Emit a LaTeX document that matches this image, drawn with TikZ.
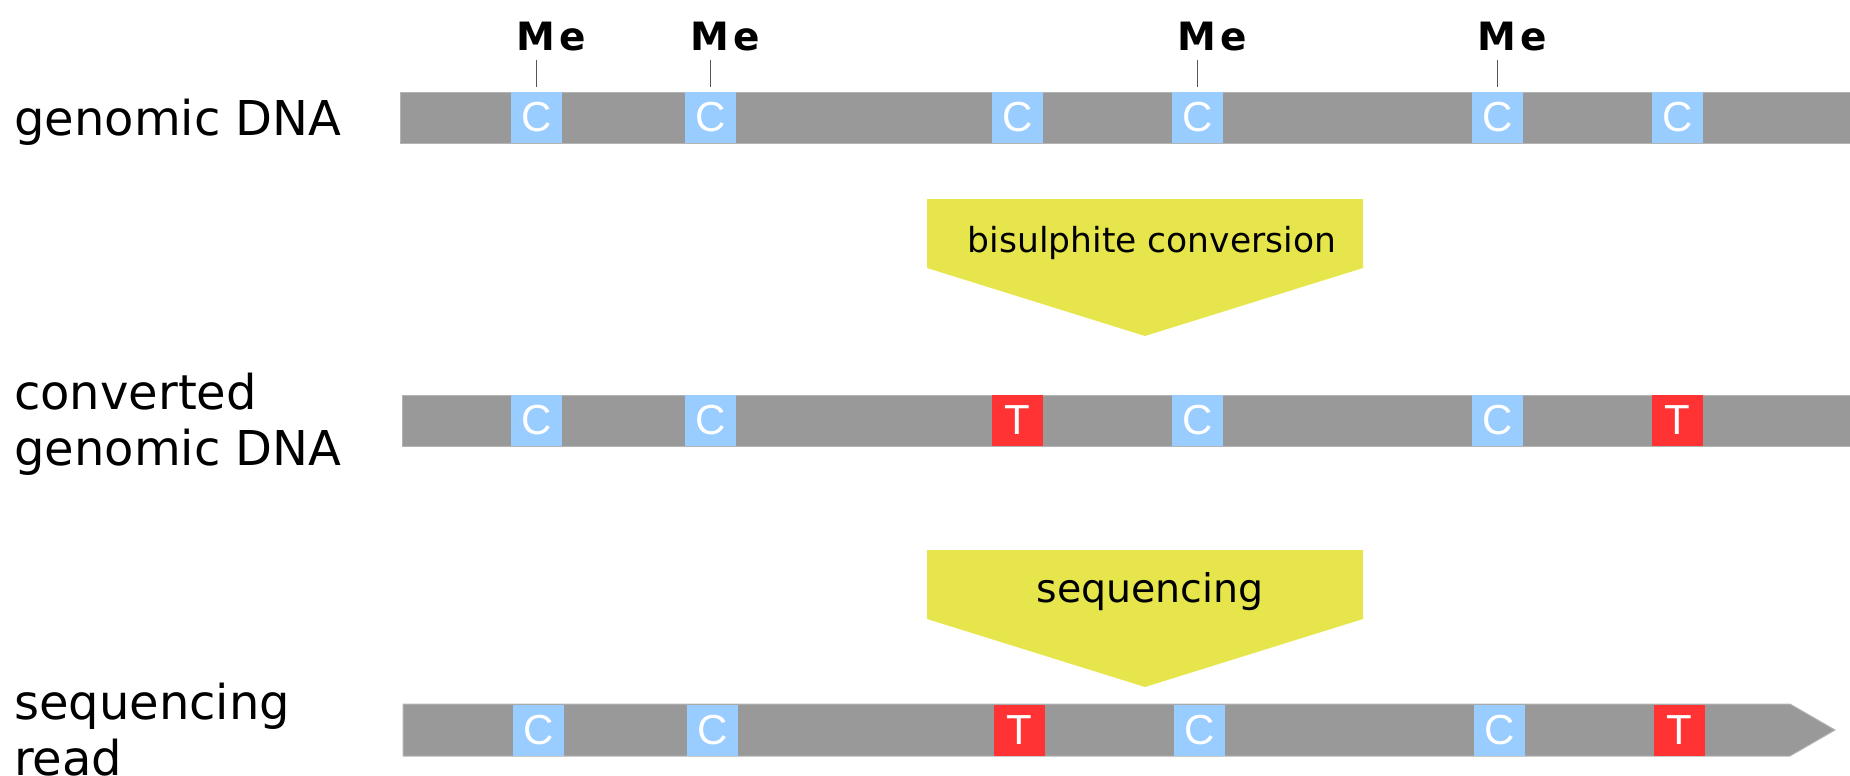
\documentclass[tikz,border=0pt]{standalone}
\usepackage{fontspec}
\setmainfont{DejaVu Sans}
\newfontfamily\basefont{Liberation Sans}
\definecolor{dnagrey}{HTML}{999999}
\definecolor{dnaedge}{HTML}{B4B4B4}
\definecolor{cyto}{HTML}{99CCFF}
\definecolor{thym}{HTML}{FF3333}
\definecolor{stepyellow}{HTML}{E6E64C}
\definecolor{tick}{HTML}{555555}
\begin{document}
\begin{tikzpicture}[x=1pt,y=-1pt,
  strand/.style={fill=dnagrey, draw=dnaedge, line width=1pt},
  nuc/.style={minimum width=51pt, minimum height=51pt, inner sep=0pt, text=white,
    font=\basefont\fontsize{42}{42}\selectfont},
  cnuc/.style={nuc, fill=cyto},
  tnuc/.style={nuc, fill=thym},
  methyl/.style={anchor=base, inner sep=0pt, font=\bfseries\fontsize{39}{39}\selectfont},
  methylbond/.style={draw=tick, line width=1.2pt},
  rowlabel/.style={anchor=base west, inner sep=0pt, align=left,
    font=\fontsize{48}{56}\selectfont},
  stepshape/.style={fill=stepyellow},
  steptext/.style={anchor=base, inner sep=0pt},
]
\useasboundingbox (0,0) rectangle (1850,776);

% ---- row 1: genomic DNA ----
\fill[strand] (400,92) rectangle (1851,143);
\foreach \n/\x/\b in {1/511/C, 2/685/C, 3/992/C, 4/1172/C, 5/1472/C, 6/1652/C}
  \node[cnuc] (a\n) at (\x+25.5,117.5) {\b};
\node[rowlabel] (gdna) at (14,135) {genomic DNA};

% methyl groups on cytosines 1, 2, 4 and 5
\foreach \n in {1,2,4,5} {
  \node[methyl] (me\n) at ([xshift=15pt]a\n.center |- 0,51) {M\kern4pt e};
  \draw[methylbond] (a\n.north |- 0,60) -- ([yshift=5pt]a\n.north);
}

% ---- bisulphite conversion step ----
\fill[stepshape] (927,199) -- (1363,199) -- (1363,268) -- (1145,336) -- (927,268) -- cycle;
\node[steptext, font=\fontsize{34.5}{34.5}\selectfont] (bis) at (1152,252) {bisulphite conversion};

% ---- row 2: converted genomic DNA ----
\fill[strand] (402,395) rectangle (1851,446);
\foreach \n/\x/\b/\s in {1/511/C/cnuc, 2/685/C/cnuc, 3/992/T/tnuc, 4/1172/C/cnuc, 5/1472/C/cnuc, 6/1652/T/tnuc}
  \node[\s] (b\n) at (\x+25.5,420.5) {\b};
\node[rowlabel] (cdna) at (14,465) {converted\\genomic DNA};

% ---- sequencing step ----
\fill[stepshape] (927,550) -- (1363,550) -- (1363,619) -- (1145,687) -- (927,619) -- cycle;
\node[steptext, font=\fontsize{39.5}{39.5}\selectfont] (seq) at (1150,602) {sequencing};

% ---- row 3: sequencing read ----
\fill[strand] (403,704) -- (1790,704) -- (1835,730) -- (1790,756) -- (403,756) -- cycle;
\foreach \n/\x/\b/\s in {1/513/C/cnuc, 2/687/C/cnuc, 3/994/T/tnuc, 4/1174/C/cnuc, 5/1474/C/cnuc, 6/1654/T/tnuc}
  \node[\s] (c\n) at (\x+25.5,730) {\b};
\node[rowlabel] (read) at (14,775) {sequencing\\read};
\end{tikzpicture}
\end{document}
